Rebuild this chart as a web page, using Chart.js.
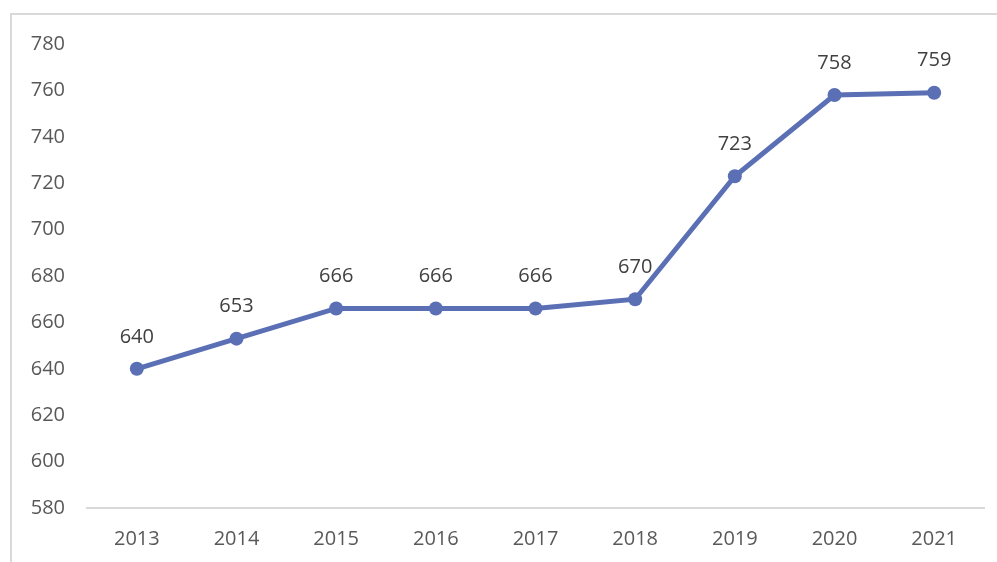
<!DOCTYPE html>
<html>
<head>
<meta charset="utf-8">
<script src="https://cdn.jsdelivr.net/npm/chart.js@4"></script>
<style>
  html, body { margin: 0; padding: 0; background: #fff; overflow: hidden; }
  #wrap { position: relative; width: 997px; height: 562px; }
  #frame { position: absolute; left: 10px; top: 13px; width: 1000px; height: 600px; border: 2px solid #d9d9d9; box-sizing: border-box; }
  #chart { position: absolute; left: 0; top: 0; }
</style>
</head>
<body>
<div id="wrap">
  <div id="frame"></div>
  <canvas id="chart" width="997" height="562"></canvas>
</div>
<script>
// values
const years = ['2013', '2014', '2015', '2016', '2017', '2018', '2019', '2020', '2021'];
const values = [640, 653, 666, 666, 666, 670, 723, 758, 759];

const yMin = 580;
const yMax = 780;
const yStep = 20;

const lineColor = '#5b6fb5';
const fontFamily = "'Open Sans', sans-serif";

// labels above each point
const pointLabels = {
    id: 'pointLabels',
    afterDatasetsDraw(chart) {
        const ctx = chart.ctx;
        const meta = chart.getDatasetMeta(0);
        ctx.save();
        ctx.font = '20px ' + fontFamily;
        ctx.fillStyle = '#404040';
        ctx.textAlign = 'center';
        ctx.textBaseline = 'middle';
        meta.data.forEach((pt, i) => {
            ctx.fillText(String(values[i]), pt.x, pt.y - 32);
        });
        ctx.restore();
    }
};

const ctx = document.getElementById('chart').getContext('2d');
new Chart(ctx, {
    type: 'line',
    data: {
        labels: years,
        datasets: [{
            data: values,
            borderColor: lineColor,
            backgroundColor: lineColor,
            borderWidth: 5,
            tension: 0,
            fill: false,
            pointRadius: 7,
            pointBackgroundColor: lineColor,
            pointBorderColor: lineColor,
            pointBorderWidth: 0
        }]
    },
    options: {
        responsive: false,
        animation: false,
        layout: { padding: { left: 0, right: 13, top: 44, bottom: 0 } },
        plugins: {
            legend: { display: false },
            tooltip: { enabled: false }
        },
        scales: {
            x: {
                offset: true,
                grid: { display: false, drawTicks: false },
                border: { display: true, color: '#d9d9d9', width: 2 },
                ticks: { color: '#595959', font: { family: fontFamily, size: 20 }, padding: 19, maxRotation: 0 },
                afterFit: (s) => { s.height = 54; }
            },
            y: {
                min: yMin,
                max: yMax,
                grid: { display: false, drawTicks: false },
                border: { display: false },
                ticks: { stepSize: yStep, color: '#595959', font: { family: fontFamily, size: 20 }, padding: 22 },
                afterFit: (s) => { s.width = 87; }
            }
        }
    },
    plugins: [pointLabels]
});
</script>
</body>
</html>
